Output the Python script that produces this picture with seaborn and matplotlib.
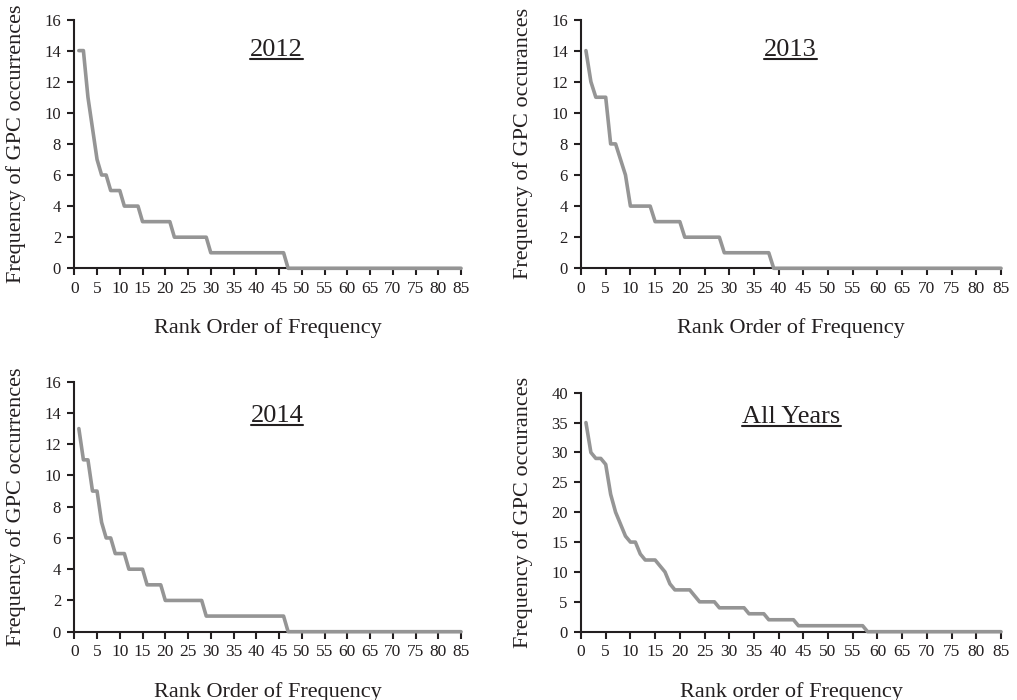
import matplotlib
matplotlib.use("Agg")
import matplotlib.pyplot as plt
import matplotlib.transforms as mtransforms
from matplotlib.lines import Line2D
import pandas as pd
import seaborn as sns

# rank order 1..85
ranks = list(range(1, 86))

freq_2012 = [14, 14, 11, 9, 7, 6, 6, 5, 5, 5,
             4, 4, 4, 4, 3, 3, 3, 3, 3, 3,
             3, 2, 2, 2, 2, 2, 2, 2, 2, 1,
             1, 1, 1, 1, 1, 1, 1, 1, 1, 1,
             1, 1, 1, 1, 1, 1, 0, 0, 0, 0,
             0, 0, 0, 0, 0, 0, 0, 0, 0, 0,
             0, 0, 0, 0, 0, 0, 0, 0, 0, 0,
             0, 0, 0, 0, 0, 0, 0, 0, 0, 0,
             0, 0, 0, 0, 0]

freq_2013 = [14, 12, 11, 11, 11, 8, 8, 7, 6, 4,
             4, 4, 4, 4, 3, 3, 3, 3, 3, 3,
             2, 2, 2, 2, 2, 2, 2, 2, 1, 1,
             1, 1, 1, 1, 1, 1, 1, 1, 0, 0,
             0, 0, 0, 0, 0, 0, 0, 0, 0, 0,
             0, 0, 0, 0, 0, 0, 0, 0, 0, 0,
             0, 0, 0, 0, 0, 0, 0, 0, 0, 0,
             0, 0, 0, 0, 0, 0, 0, 0, 0, 0,
             0, 0, 0, 0, 0]

freq_2014 = [13, 11, 11, 9, 9, 7, 6, 6, 5, 5,
             5, 4, 4, 4, 4, 3, 3, 3, 3, 2,
             2, 2, 2, 2, 2, 2, 2, 2, 1, 1,
             1, 1, 1, 1, 1, 1, 1, 1, 1, 1,
             1, 1, 1, 1, 1, 1, 0, 0, 0, 0,
             0, 0, 0, 0, 0, 0, 0, 0, 0, 0,
             0, 0, 0, 0, 0, 0, 0, 0, 0, 0,
             0, 0, 0, 0, 0, 0, 0, 0, 0, 0,
             0, 0, 0, 0, 0]

freq_all = [35, 30, 29, 29, 28, 23, 20, 18, 16, 15,
            15, 13, 12, 12, 12, 11, 10, 8, 7, 7,
            7, 7, 6, 5, 5, 5, 5, 4, 4, 4,
            4, 4, 4, 3, 3, 3, 3, 2, 2, 2,
            2, 2, 2, 1, 1, 1, 1, 1, 1, 1,
            1, 1, 1, 1, 1, 1, 1, 0, 0, 0,
            0, 0, 0, 0, 0, 0, 0, 0, 0, 0,
            0, 0, 0, 0, 0, 0, 0, 0, 0, 0,
            0, 0, 0, 0, 0]

titles = ["2012", "2013", "2014", "All Years"]
ylabels = ["Frequency of GPC occurrences", "Frequency of GPC occurances",
           "Frequency of GPC occurrences", "Frequency of GPC occurances"]
xlabels = ["Rank Order of Frequency", "Rank Order of Frequency",
           "Rank Order of Frequency", "Rank order of Frequency"]
y_max = [16, 16, 16, 40]
y_step = [2, 2, 2, 5]
x_ticks = list(range(0, 90, 5))

series = [freq_2012, freq_2013, freq_2014, freq_all]

INK = "#231f20"
LINE = "#959595"

sns.set_theme(style="ticks")
plt.rcParams["font.family"] = ["Liberation Serif", "DejaVu Serif"]
plt.rcParams["text.color"] = INK
plt.rcParams["axes.labelcolor"] = INK

W, H = 1017, 700
fig = plt.figure(figsize=(W / 100, H / 100), dpi=100)

# axes boxes in pixels: left, top, right, bottom
boxes = [(74.3, 19.5, 461, 268.3), (581, 19.5, 1001, 268.3),
         (74.3, 381.7, 461, 631.7), (581, 392.7, 1001, 631.7)]
# title anchor (axes fraction x, baseline y)
title_pos = [(0.522, 0.853), (0.498, 0.853), (0.524, 0.840), (0.501, 0.874)]

title_texts = []
axes = []
for i, (l, t, r, b) in enumerate(boxes):
    ax = fig.add_axes([l / W, 1 - b / H, (r - l) / W, (b - t) / H])
    axes.append(ax)
    df = pd.DataFrame({"rank": ranks, "freq": series[i]})
    sns.lineplot(data=df, x="rank", y="freq", ax=ax, color=LINE, linewidth=2.6,
                 solid_capstyle="round", solid_joinstyle="round", clip_on=False, zorder=3)

    ax.set_xlim(0, 85)
    ax.set_ylim(0, y_max[i])
    ax.set_xticks(x_ticks)
    ax.set_yticks(list(range(0, y_max[i] + 1, y_step[i])))
    sns.despine(ax=ax)
    for s in ["left", "bottom"]:
        ax.spines[s].set_linewidth(1.5)
        ax.spines[s].set_color(INK)
    ax.tick_params(axis="both", direction="out", length=5, width=1.5, color=INK,
                   labelcolor=INK)
    ax.tick_params(axis="x", labelsize=12.5, pad=4)
    ax.tick_params(axis="y", labelsize=12, pad=4.5)

    ax.set_xlabel(xlabels[i], fontsize=16)
    ax.set_ylabel(ylabels[i], fontsize=16)
    off_x = mtransforms.ScaledTranslation(0, -50 / 100, fig.dpi_scale_trans)
    ax.xaxis.set_label_coords(0.5, 0, transform=ax.transAxes + off_x)
    off_y = mtransforms.ScaledTranslation(-48 / 100, 0, fig.dpi_scale_trans)
    ax.yaxis.set_label_coords(0, 0.5, transform=ax.transAxes + off_y)

    tx, ty = title_pos[i]
    txt = ax.text(tx, ty, titles[i], transform=ax.transAxes, ha="center",
                  va="baseline", fontsize=19, color=INK)
    title_texts.append(txt)

# underline the panel titles
fig.canvas.draw()
renderer = fig.canvas.get_renderer()
for ax, txt, (tx, ty) in zip(axes, title_texts, title_pos):
    bb = txt.get_window_extent(renderer)
    base_y = ax.transAxes.transform((tx, ty))[1]
    yy = (base_y - 3) / H
    fig.add_artist(Line2D([bb.x0 / W, bb.x1 / W], [yy, yy], transform=fig.transFigure,
                          color=INK, linewidth=1.5))

fig.savefig("out.png", dpi=100)
plt.close(fig)
